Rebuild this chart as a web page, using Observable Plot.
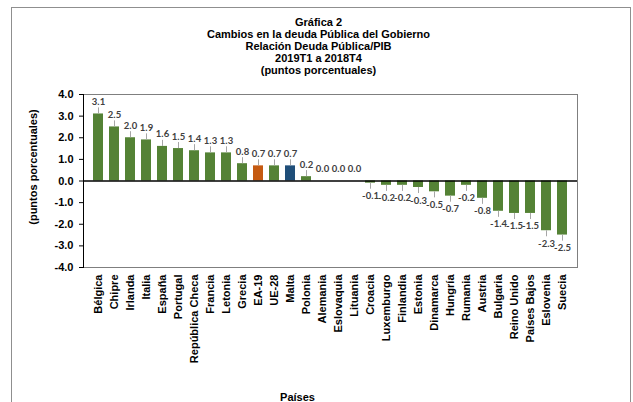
<!DOCTYPE html>
<html>
<head>
<meta charset="utf-8">
<script src="https://cdn.jsdelivr.net/npm/d3@7"></script>
<script src="https://cdn.jsdelivr.net/npm/@observablehq/plot@0.6"></script>
<style>
  body { margin: 0; background: #fff; }
  #wrap { position: relative; width: 633px; height: 402px; overflow: hidden;
          font-family: "Liberation Sans", Arial, sans-serif; }
  #box { position: absolute; left: 11px; top: 7px; width: 620px; height: 430px;
         border: 1.5px solid #8f8f8f; box-sizing: border-box; }
  #title { position: absolute; left: 0; top: 16px; width: 637px; text-align: center;
           font-weight: bold; font-size: 11px; line-height: 12px; color: #000; }
  #chart { position: absolute; left: 0; top: 80px; }
  #chart svg { overflow: visible; }
</style>
</head>
<body>
<div id="wrap">
  <div id="box"></div>
  <div id="title"></div>
  <div id="chart"></div>
</div>
<script>
// Title block
const titleLines = [
  "Gráfica 2",
  "Cambios en la deuda Pública del Gobierno",
  "Relación Deuda Pública/PIB",
  "2019T1 a 2018T4",
  "(puntos porcentuales)"
];

// Countries and change in debt/GDP ratio (percentage points)
const countries = [
  "Bélgica", "Chipre", "Irlanda", "Italia", "España", "Portugal", "República Checa",
  "Francia", "Letonia", "Grecia", "EA-19", "UE-28", "Malta", "Polonia", "Alemania",
  "Eslovaquia", "Lituania", "Croacia", "Luxemburgo", "Finlandia", "Estonia",
  "Dinamarca", "Hungría", "Rumania", "Austria", "Bulgaria", "Reino Unido",
  "Países Bajos", "Eslovenia", "Suecia"
];
const values = [
  3.1, 2.5, 2.0, 1.9, 1.6, 1.5, 1.4,
  1.3, 1.3, 0.8, 0.7, 0.7, 0.7, 0.2, 0.0,
  0.0, 0.0, -0.1, -0.2, -0.2, -0.3,
  -0.5, -0.7, -0.2, -0.8, -1.4, -1.5,
  -1.5, -2.3, -2.5
];
const yTicks = [-4, -3, -2, -1, 0, 1, 2, 3, 4];
const yLabel = "(puntos porcentuales)";
const xLabel = "Países";

// Bar colours: aggregates stand out from the countries
const barGreen = "#548235";
const specialColors = { "EA-19": "#c55a11", "Malta": "#1f4e79" };

document.getElementById("title").innerHTML =
  titleLines.map(t => `<div>${t}</div>`).join("");

const data = countries.map((pais, i) => ({ pais, valor: values[i] }));
const up = data.filter(d => d.valor >= 0);
const down = data.filter(d => d.valor < 0);
const leader = 0.28; // leader-line length in y units

const labelFont = { fontFamily: "Lato, 'Liberation Sans', sans-serif", fontSize: 9.5, fontWeight: "bold", fill: "#404040" };

const chart = Plot.plot({
  width: 633,
  height: 322,
  marginTop: 14,
  marginBottom: 135,
  marginLeft: 83,
  marginRight: 56,
  style: { fontFamily: "'Liberation Sans', Arial, sans-serif", fontSize: "11px", fontWeight: "bold", color: "#000", background: "transparent" },
  x: { domain: countries, paddingInner: 0.35, paddingOuter: 0.175, label: null },
  y: { domain: [-4, 4], label: null },
  color: { type: "identity" },
  marks: [
    Plot.frame({ stroke: "#7f7f7f" }),
    Plot.barY(data, { x: "pais", y: "valor", fill: d => specialColors[d.pais] || barGreen }),
    Plot.ruleX(data.filter(d => d.valor !== 0), {
      x: "pais", y1: "valor", y2: d => d.valor + Math.sign(d.valor) * leader, stroke: "#a6a6a6", strokeWidth: 1
    }),
    Plot.ruleY([0], { stroke: "#000", strokeWidth: 1.5 }),
    Plot.frame({ anchor: "left", stroke: "#000" }),
    Plot.text(up, { x: "pais", y: "valor", text: d => d.valor.toFixed(1), dy: -12, ...labelFont }),
    Plot.text(down, { x: "pais", y: "valor", text: d => d.valor.toFixed(1), dy: 13, ...labelFont }),
    Plot.axisY({ ticks: yTicks, tickFormat: d => d.toFixed(1), tickSize: 4, tickPadding: 6, label: null }),
    Plot.axisX({ tickRotate: -90, tickSize: 0, tickPadding: 7, label: null }),
    Plot.text([yLabel], { text: d => d, frameAnchor: "left", textAnchor: "middle", lineAnchor: "middle", rotate: -90, dx: -50, dy: -14, fontWeight: "bold", fontSize: 11 }),
    Plot.text([xLabel], { text: d => d, frameAnchor: "bottom", textAnchor: "middle", lineAnchor: "middle", dx: -33, dy: 130, fontWeight: "bold", fontSize: 11 })
  ]
});
document.getElementById("chart").append(chart);
</script>
</body>
</html>
